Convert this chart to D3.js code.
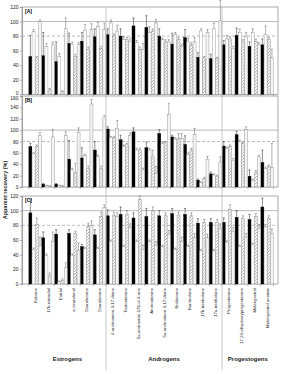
<!DOCTYPE html>
<html><head><meta charset="utf-8">
<script src="https://cdn.jsdelivr.net/npm/d3@7"></script>
<style>body{margin:0;background:#fff}svg{display:block}text{font-family:"Liberation Sans",Arial,sans-serif}</style>
</head><body><svg id="c" width="282" height="374"></svg>
<script>
const categories = ["Estrone","17b-estradiol","Estriol","a-zearalenol","Zearalanone","Zearalenone",
 "4-androstene-3,17-dione","Testosterone","5a-androstan-17b-ol-3-one","Androsterone","5a-androstane-3,17-dione",
 "Boldenone","Nandrolone","17b-trenbolone","17a-trenbolone",
 "Progesterone","17,20-dihydroxyprogesterone","Melengestrol","Melengestrol acetate"];
const groups = [["Estrogens",0,6],["Androgens",6,15],["Progestogens",15,19]];
const panelLabels = ["[A]","[B]","[C]"];
const yMax = [120,160,120];
const yTicks = [[0,20,40,60,80,100,120],[0,20,40,60,80,100,120,140,160],[0,20,40,60,80,100,120]];

// Panel A
const a1 = [52,53,45,70,73,79,82,80,94,92,80,69,78,51,49,68,81,66,68];
const a1e = [29,32,27,14,12,11,8,10,11,16,10,15,11,6,6,6,10,6,8];
const a2 = [86,66,52,69,88,93,98,75,71,85,75,82,73,87,90,76,85,85,82];
const a2e = [3,4,4,3,8,6,4,4,3,8,2,3,4,3,8,5,5,5,12];
const a3 = [50,6,4,52,62,63,80,75,62,87,72,75,68,50,49,76,72,73,75];
const a3e = [2,2,1,3,3,3,3,3,3,3,3,3,3,2,2,3,3,3,3];
const a4 = [100,68,90,68,89,89,87,73,62,98,72,66,72,85,101,63,80,68,50];
const a4e = [2,4,15,3,8,9,8,4,8,5,3,3,6,4,28,3,5,3,12];
// Panel B
const b1 = [71,5,5,49,51,65,102,83,97,69,94,88,75,12,23,72,92,19,43];
const b1e = [6,1,1,33,18,15,4,8,7,10,7,3,15,2,3,8,6,11,22];
const b2 = [59,3,3,30,55,53,87,71,65,65,77,84,57,8,21,67,80,12,32];
const b2e = [2,0,0,3,3,3,2,3,3,3,2,3,3,1,2,3,2,2,3];
const b3 = [72,2,2,26,32,32,87,74,65,53,78,85,65,15,19,71,77,26,36];
const b3e = [2,0,0,16,5,5,2,3,3,12,2,9,3,2,2,3,2,3,3];
const b4 = [91,88,91,96,146,123,103,91,30,24,127,85,92,49,44,47,101,53,34];
const b4e = [5,13,6,8,8,3,14,4,3,12,20,9,11,5,9,3,5,3,43];
// Panel C
const c1 = [97,63,68,69,51,67,93,95,90,92,93,96,95,83,84,84,91,88,105];
const c1e = [18,8,6,5,3,7,8,10,7,11,7,7,8,6,5,6,9,7,12];
const c2 = [47,39,3,39,48,48,58,51,58,58,51,47,51,45,45,57,51,54,78];
const c2e = [2,2,1,2,2,2,2,2,2,2,2,2,2,2,2,2,2,2,3];
const c3 = [81,12,5,69,78,92,94,95,115,100,93,94,93,84,84,102,89,92,89];
const c3e = [9,3,2,3,5,6,4,5,5,5,4,4,4,4,4,6,4,4,4];
const c4 = [52,58,22,46,80,104,92,77,47,53,68,58,63,63,76,72,64,76,69];
const c4e = [12,13,7,10,6,4,5,5,6,5,5,6,6,5,6,5,5,5,6];

const panels = [
 {vals:[a1,a2,a3,a4], errs:[a1e,a2e,a3e,a4e], range:[94.3,7]},
 {vals:[b1,b2,b3,b4], errs:[b1e,b2e,b3e,b4e], range:[187,96]},
 {vals:[c1,c2,c3,c4], errs:[c1e,c2e,c3e,c4e], range:[284,196]}
];
const seriesIdx = [0,1,2,3];

const svg = d3.select("#c");
svg.append("rect").attr("width",282).attr("height",374).attr("fill","#fff");
const defs = svg.append("defs");
const pat = defs.append("pattern").attr("id","hatch").attr("patternUnits","userSpaceOnUse")
  .attr("width",2.2).attr("height",2.2).attr("patternTransform","rotate(45)");
pat.append("rect").attr("width",2.2).attr("height",2.2).attr("fill","#fff");
pat.append("line").attr("x1",0).attr("y1",0).attr("x2",0).attr("y2",2.2).attr("stroke","#777").attr("stroke-width",0.9);

const frameL = 22, frameR = 278;
const x = d3.scaleBand().domain(categories).range([28.7,273.6]).paddingInner(0).paddingOuter(0);
const xs = d3.scaleBand().domain(seriesIdx).range([0,x.bandwidth()]).padding(0.06);
const fills = ["#000","#fff","url(#hatch)","#f4f4f4"];
const strokes = ["#000","#888","#888","#888"];

panels.forEach((p,pi)=>{
  const y = d3.scaleLinear().domain([0,yMax[pi]]).range(p.range);
  const g = svg.append("g");
  g.append("rect").attr("x",frameL).attr("y",y(yMax[pi])).attr("width",frameR-frameL)
    .attr("height",y(0)-y(yMax[pi])).attr("fill","none").attr("stroke","#888").attr("stroke-width",0.7);
  g.append("line").attr("x1",frameL).attr("x2",frameR).attr("y1",y(100)).attr("y2",y(100)).attr("stroke","#aaa").attr("stroke-width",0.8);
  g.append("line").attr("x1",frameL).attr("x2",frameR).attr("y1",y(80)).attr("y2",y(80)).attr("stroke","#aaa").attr("stroke-width",0.8).attr("stroke-dasharray","3,2");
  p.vals.forEach((vals,si)=>{
    g.selectAll(null).data(categories).join("rect")
      .attr("x",(c)=>x(c)+xs(si)).attr("width",xs.bandwidth())
      .attr("y",(c,i)=>y(vals[i])).attr("height",(c,i)=>y(0)-y(vals[i]))
      .attr("fill",fills[si]).attr("stroke",strokes[si]).attr("stroke-width",0.4);
    const errs = p.errs[si];
    g.selectAll(null).data(categories).join("path")
      .attr("d",(c,i)=>{const cx=x(c)+xs(si)+xs.bandwidth()/2, y0=y(vals[i]), y1=y(vals[i]+errs[i]);
        return `M${cx},${y0}V${y1}M${cx-1.1},${y1}H${cx+1.1}`;})
      .attr("stroke",si===0?"#222":"#666").attr("stroke-width",0.5).attr("fill","none");
  });
  const ya = d3.axisLeft(y).tickValues(yTicks[pi]).tickSize(2).tickPadding(1.5);
  const ag = g.append("g").attr("transform",`translate(${frameL},0)`).call(ya);
  ag.select(".domain").attr("stroke","#888").attr("stroke-width",0.7);
  ag.selectAll(".tick line").attr("stroke","#888").attr("stroke-width",0.6);
  ag.selectAll("text").attr("font-size",5).attr("fill","#222");
  // nudge the touching labels where panels meet
  ag.selectAll(".tick text").attr("dy",d=>{
    if (pi===0 && d===0) return "0.1em";
    if (pi===1 && d===yMax[1]) return "0.75em";
    return "0.32em";
  });
  const bounds = categories.map(c=>x(c)).concat([x.range()[1]]);
  g.selectAll(null).data(bounds).join("line").attr("x1",d=>d).attr("x2",d=>d)
    .attr("y1",y(0)).attr("y2",y(0)+2).attr("stroke","#888").attr("stroke-width",0.6);
  g.append("text").attr("x",frameL+3).attr("y",y(yMax[pi])+6).attr("font-size",5).attr("font-weight","bold").text(panelLabels[pi]);
});

groups.slice(1).forEach(gr=>{
  const sx = x(categories[gr[1]]);
  svg.append("line").attr("x1",sx).attr("x2",sx).attr("y1",7).attr("y2",370).attr("stroke","#bbb").attr("stroke-width",0.8);
});

svg.selectAll(null).data(categories).join("text")
  .attr("transform",c=>`translate(${x(c)+x.bandwidth()/2+1.5},288) rotate(-90)`)
  .attr("text-anchor","end").attr("font-size",4.3).attr("fill","#222").text(c=>c);

svg.selectAll(null).data(groups).join("text")
  .attr("x",gr=>{const s=x(categories[gr[1]]); const e=x(categories[gr[2]-1])+x.bandwidth(); return (s+e)/2;})
  .attr("y",361).attr("text-anchor","middle").attr("font-size",6).attr("font-weight","bold").attr("fill","#222").text(gr=>gr[0]);

svg.append("text").attr("transform","translate(7,190) rotate(-90)").attr("text-anchor","middle")
  .attr("font-size",5.5).attr("font-weight","bold").attr("fill","#222").text("Apparent recovery (%)");
</script></body></html>
